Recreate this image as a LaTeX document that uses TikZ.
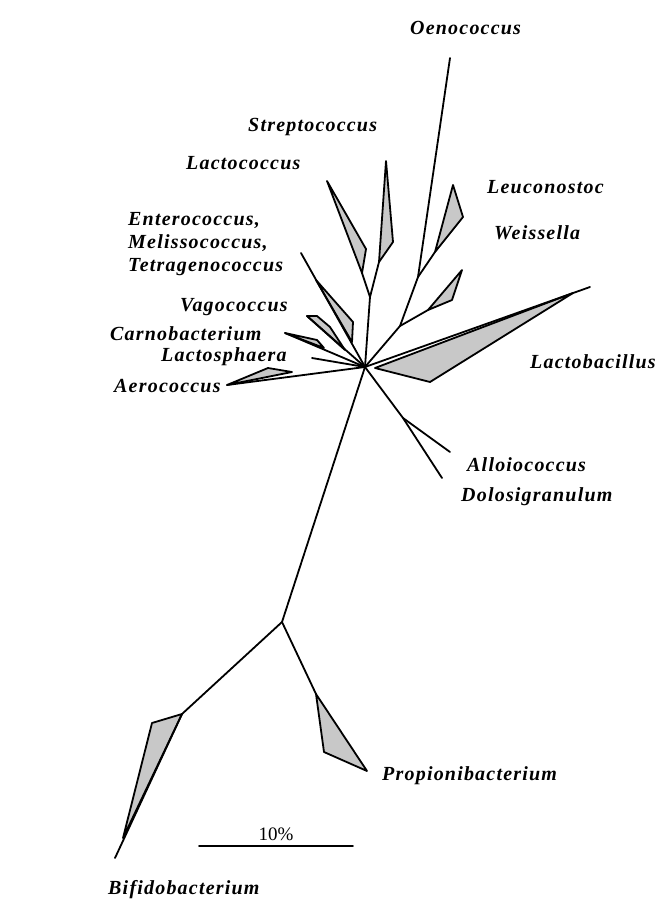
\documentclass[tikz,border=0pt]{standalone}
\usepackage{fontspec}
\setmainfont{Liberation Serif}
\newfontfamily\labfont[LetterSpace=6]{Liberation Serif}
\definecolor{cladegray}{RGB}{200,200,200}
\begin{document}
\begin{tikzpicture}[x=1pt,y=-1pt,line join=round,line cap=round,
  br/.style={line width=1.8pt},
  clade/.style={line width=1.8pt,fill=cladegray,draw=black},
  taxon/.style={font=\labfont\fontsize{20}{23}\selectfont\bfseries\itshape,inner sep=0pt,anchor=base west,align=left}]
\useasboundingbox (0,0) rectangle (656,907);
% tree vertices
\coordinate (H) at (365,367);
\coordinate (A) at (400,326);
\coordinate (B) at (418,277);
\coordinate (Oe) at (450,58);
\coordinate (LeB) at (435,252);
\coordinate (LeT) at (453,185);
\coordinate (LeR) at (463,217);
\coordinate (WeB) at (428,310);
\coordinate (WeT) at (462,270);
\coordinate (WeR) at (452,300);
\coordinate (C) at (370,297);
\coordinate (LcB) at (362,273);
\coordinate (LcT) at (327,181);
\coordinate (LcR) at (366,249);
\coordinate (StB) at (379,262);
\coordinate (StT) at (386,161);
\coordinate (StR) at (393,242);
\coordinate (EnT) at (301,253);
\coordinate (EnA) at (316,280);
\coordinate (EnR) at (353,322);
\coordinate (EnB) at (352,342);
\coordinate (VaT) at (307,316);
\coordinate (VaR) at (317,316);
\coordinate (VaC) at (330,327);
\coordinate (VaX) at (345,350);
\coordinate (CaT) at (285,333);
\coordinate (CaA) at (317,340);
\coordinate (CaB) at (324,348);
\coordinate (Ls) at (312,358);
\coordinate (AeT) at (227,385);
\coordinate (AeU) at (268,368);
\coordinate (AeR) at (292,372);
\coordinate (LbT) at (590,287);
\coordinate (LbA) at (573,293);
\coordinate (LbB) at (430,382);
\coordinate (LbS) at (375,368);
\coordinate (D) at (403,418);
\coordinate (AlT) at (450,452);
\coordinate (DoT) at (442,478);
\coordinate (E) at (282,622);
\coordinate (BiA) at (182,714);
\coordinate (BiB) at (152,723);
\coordinate (BiC) at (123,838);
\coordinate (BiT) at (115,858);
\coordinate (PrA) at (316,694);
\coordinate (PrB) at (324,752);
\coordinate (PrC) at (367,771);
\coordinate (S1) at (199,846);
\coordinate (S2) at (353,846);
% clades (filled)
\filldraw[clade] (LeB)--(LeT)--(LeR)--cycle;
\filldraw[clade] (WeB)--(WeT)--(WeR)--cycle;
\filldraw[clade] (LcB)--(LcT)--(LcR)--cycle;
\filldraw[clade] (StB)--(StT)--(StR)--cycle;
\filldraw[clade] (EnA)--(EnR)--(EnB)--cycle;
\filldraw[clade] (VaT)--(VaR)--(VaC)--(VaX)--cycle;
\filldraw[clade] (CaT)--(CaA)--(CaB)--cycle;
\filldraw[clade] (AeT)--(AeU)--(AeR)--cycle;
\filldraw[clade] (LbS)--(LbA)--(LbB)--cycle;
\filldraw[clade] (BiA)--(BiB)--(BiC)--cycle;
\filldraw[clade] (PrA)--(PrB)--(PrC)--cycle;
% branches
\draw[br] (H)--(A)--(B)--(Oe);
\draw[br] (B)--(LeB);
\draw[br] (A)--(WeB);
\draw[br] (H)--(C)--(LcB);
\draw[br] (C)--(StB);
\draw[br] (H)--(EnT);
\draw[br] (H)--(VaT);
\draw[br] (H)--(CaT);
\draw[br] (H)--(Ls);
\draw[br] (H)--(AeT);
\draw[br] (H)--(LbT);
\draw[br] (H)--(D)--(AlT);
\draw[br] (D)--(DoT);
\draw[br] (H)--(E)--(BiA)--(BiT);
\draw[br] (E)--(PrA);
\draw[br] (S1)--(S2);
% labels
\node[taxon] (lOe) at (410,35) {Oenococcus};
\node[taxon] (lSt) at (248,131) {Streptococcus};
\node[taxon] (lLc) at (186,169) {Lactococcus};
\node[taxon] (lLe) at (487,193) {Leuconostoc};
\node[taxon,anchor=north west] (lEn) at (128,212) {Enterococcus,\\Melissococcus,\\Tetragenococcus};
\node[taxon] (lWe) at (494,239) {Weissella};
\node[taxon] (lVa) at (180,311) {Vagococcus};
\node[taxon] (lCa) at (110,340) {Carnobacterium};
\node[taxon] (lLs) at (161,361) {Lactosphaera};
\node[taxon] (lAe) at (114,392) {Aerococcus};
\node[taxon] (lLb) at (530,368) {Lactobacillus};
\node[taxon] (lAl) at (467,471) {Alloiococcus};
\node[taxon] (lDo) at (461,501) {Dolosigranulum};
\node[taxon] (lPr) at (382,780) {Propionibacterium};
\node[taxon] (lBi) at (108,894) {Bifidobacterium};
\node[font=\fontsize{19}{22}\selectfont,inner sep=0pt,anchor=base] (lS) at (276,840) {10\%};
\end{tikzpicture}
\end{document}
